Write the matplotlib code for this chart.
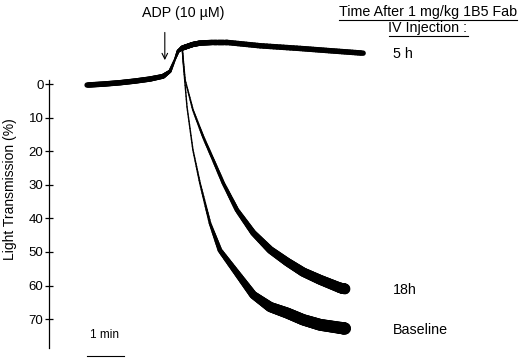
import numpy as np
import matplotlib.pyplot as plt
from matplotlib.collections import LineCollection
from matplotlib.lines import Line2D

plt.rcParams['font.family'] = ['Liberation Sans', 'DejaVu Sans']

# time (min) and light transmission (%)
pre_t = [0.0, 0.45, 0.89, 1.30, 1.70, 2.05, 2.24, 2.38, 2.46, 2.57]
pre_v = [0.3, 0.0, -0.4, -0.9, -1.5, -2.3, -3.8, -7.5, -9.8, -10.7]

h5_t = [2.57, 2.70, 2.86, 3.05, 3.40, 3.78, 4.68, 5.76, 6.60, 7.46]
h5_v = [-10.7, -11.2, -11.8, -12.2, -12.4, -12.4, -11.4, -10.6, -9.9, -9.2]

h18_t = [2.57, 2.65, 2.86, 3.14, 3.41, 3.68, 4.05, 4.49, 4.95, 5.41, 5.84, 6.30, 6.84, 6.97]
h18_v = [-10.7, -1.2, 7.7, 15.8, 22.6, 29.5, 37.5, 44.3, 49.4, 53.0, 56.0, 58.3, 60.7, 61.0]

base_t = [2.57, 2.60, 2.70, 2.86, 3.05, 3.32, 3.59, 4.05, 4.49, 4.95, 5.41, 5.84, 6.30, 6.84, 6.97]
base_v = [-10.7, -6.0, 6.8, 19.6, 29.5, 41.4, 49.5, 56.3, 62.8, 66.4, 68.2, 70.2, 71.7, 72.6, 72.8]

yticks = [0, 10, 20, 30, 40, 50, 60, 70]

W, H = 520, 360
fig = plt.figure(figsize=(W / 100, H / 100), dpi=100)
ax = fig.add_axes([49 / W, 12 / H, (W - 49) / W, 318 / H])
ax.set_xlim(-1.03, 11.70)
ax.set_ylim(78.6, -16.1)

for s in ['top', 'right', 'bottom']:
    ax.spines[s].set_visible(False)
ax.spines['left'].set_bounds(-1.2, 78.6)
ax.spines['left'].set_linewidth(0.9)
ax.set_xticks([])
ax.set_yticks(yticks)
ax.tick_params(axis='y', direction='inout', length=6, width=0.9, labelsize=9.5, pad=1)
ax.set_ylabel('Light Transmission (%)', fontsize=10, labelpad=8)

# pixels per unit, used to thin the noisy band where the trace is steep
p0 = ax.transData.transform((0, 0))
p1 = ax.transData.transform((1, 10))
px_t = abs(p1[0] - p0[0])
px_v = abs(p1[1] - p0[1]) / 10


def trace(t, v, band, grow=0.0, sub=12):
    t = np.asarray(t, float)
    v = np.asarray(v, float)
    dx = np.diff(t) * px_t
    dy = np.diff(v) * px_v
    cos = np.abs(dx) / np.hypot(dx, dy)
    vmid = np.clip((v[:-1] + v[1:]) / 2, 0, None) / 70
    seg_w = np.maximum(1.4, (band + grow * vmid) * cos)
    # width at each vertex, then blend along every segment
    vert_w = np.concatenate([[seg_w[0]], (seg_w[:-1] + seg_w[1:]) / 2, [seg_w[-1]]])
    segs, widths = [], []
    f = np.linspace(0, 1, sub + 1)
    for i in range(len(t) - 1):
        xs = t[i] + (t[i + 1] - t[i]) * f
        ys = v[i] + (v[i + 1] - v[i]) * f
        ws = vert_w[i] + (vert_w[i + 1] - vert_w[i]) * f
        for k in range(sub):
            segs.append([(xs[k], ys[k]), (xs[k + 1], ys[k + 1])])
            widths.append((ws[k] + ws[k + 1]) / 2 * 0.72)
    ax.add_collection(LineCollection(segs, linewidths=widths, colors='black',
                                     capstyle='round', joinstyle='round'))


trace(pre_t, pre_v, 5.5)
trace(h5_t, h5_v, 5.5)
trace(h18_t, h18_v, 5.0, 7.0)
trace(base_t, base_v, 5.0, 7.0)

# ADP arrow
ax.annotate('', xy=(2.1, -6.3), xytext=(2.1, -16.2),
            arrowprops=dict(arrowstyle='->', lw=0.8, color='black'),
            annotation_clip=False)
fig.text(183 / W, 1 - 13 / H, 'ADP (10 \u00b5M)', fontsize=10.3, ha='center', va='center')

# labels on the right
t1 = fig.text(428 / W, 1 - 12 / H, 'Time After 1 mg/kg 1B5 Fab', fontsize=10.3,
              ha='center', va='center')
t2 = fig.text(428 / W, 1 - 28 / H, 'IV Injection :', fontsize=10.3,
              ha='center', va='center')
fig.text(393 / W, 1 - 54 / H, '5 h', fontsize=10.3, ha='left', va='center')
fig.text(393 / W, 1 - 290 / H, '18h', fontsize=10.3, ha='left', va='center')
fig.text(393 / W, 1 - 330 / H, 'Baseline', fontsize=10.3, ha='left', va='center')

# 1 min scale bar
ax.plot([0, 1], [81.0, 81.0], color='black', lw=0.8, clip_on=False)
ax.text(0.47, 74.6, '1 min', fontsize=8.5, ha='center', va='center')

fig.canvas.draw()
inv = fig.transFigure.inverted()
for t in (t1, t2):
    bb = t.get_window_extent()
    (x0, y0), (x1, _) = inv.transform([(bb.x0, bb.y0 - 1), (bb.x1, bb.y0 - 1)])
    fig.add_artist(Line2D([x0, x1], [y0, y0], color='black', lw=0.8,
                          transform=fig.transFigure))

fig.savefig('out.png', dpi=100, facecolor='white')
